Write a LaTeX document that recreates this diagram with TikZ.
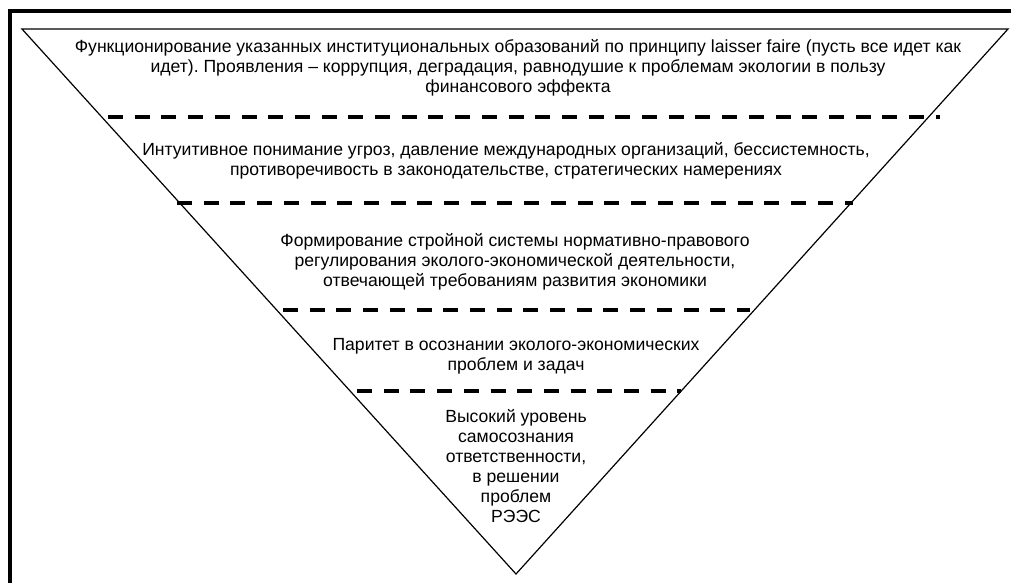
\documentclass[tikz,border=0pt]{standalone}
\usepackage{fontspec}
\setmainfont{Liberation Sans}
\frenchspacing
\begin{document}
\begin{tikzpicture}[x=1pt,y=-1pt,
  frameline/.style={line width=4pt},
  triline/.style={line width=1.2pt},
  sepline/.style={line width=3.3pt, dash pattern=on 15pt off 11.7pt},
  txt/.style={align=center, inner sep=0pt, font=\fontsize{17.6}{20}\selectfont}]
\useasboundingbox (0,0) rectangle (1011,583);
% frame (top and left)
\draw[frameline] (1011,11.5) -- (10,11.5) -- (10,583);
% inverted triangle
\coordinate (tl) at (22,29);
\coordinate (tr) at (1008,29);
\coordinate (ap) at (516,574);
\draw[triline, line join=miter] (tl) -- (tr) -- (ap) -- cycle;
% separators
\coordinate (s1a) at (108,117); \coordinate (s1b) at (940,117);
\coordinate (s2a) at (177,203); \coordinate (s2b) at (853,203);
\coordinate (s3a) at (283,310); \coordinate (s3b) at (750,310);
\coordinate (s4a) at (357,391); \coordinate (s4b) at (681,391);
\draw[sepline] (s1a) -- (s1b);
\draw[sepline] (s2a) -- (s2b);
\draw[sepline] (s3a) -- (s3b);
\draw[sepline] (s4a) -- (s4b);
% texts
\node[txt] (t1) at (518,68) {Функционирование указанных институциональных образований по принципу laisser faire (пусть все идет как\\идет). Проявления -- коррупция, деградация, равнодушие к проблемам экологии в пользу\\финансового эффекта};
\node[txt] (t2) at (506,161) {Интуитивное понимание угроз, давление международных организаций, бессистемность,\\противоречивость в законодательстве, стратегических намерениях};
\node[txt] (t3) at (515,262) {Формирование стройной системы нормативно-правового\\регулирования эколого-экономической деятельности,\\отвечающей требованиям развития экономики};
\node[txt] (t4) at (516,356) {Паритет в осознании эколого-экономических\\проблем и задач};
\node[txt] (t5) at (516,466) {Высокий уровень\\самосознания\\ответственности,\\в решении\\проблем\\РЭЭС};
\end{tikzpicture}
\end{document}
